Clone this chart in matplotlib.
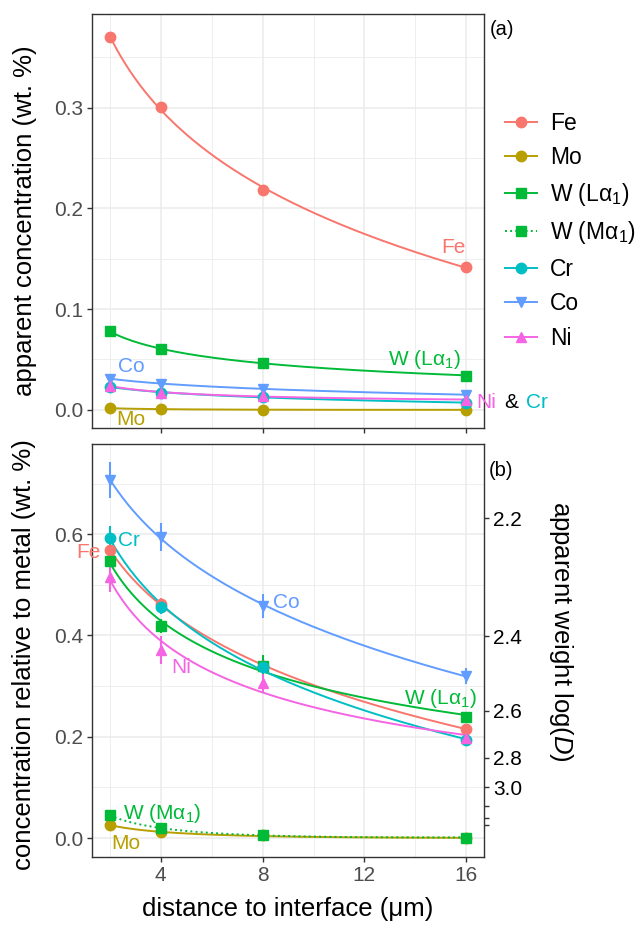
import numpy as np
import matplotlib
matplotlib.use("Agg")
import matplotlib.pyplot as plt
from matplotlib.lines import Line2D

plt.rcParams['font.family'] = ['Liberation Sans', 'DejaVu Sans']
plt.rcParams['mathtext.fontset'] = 'custom'
plt.rcParams['mathtext.rm'] = 'Liberation Sans'
plt.rcParams['mathtext.it'] = 'Liberation Sans:italic'
plt.rcParams['mathtext.default'] = 'regular'

# distance to interface (um)
distance = [2, 4, 8, 16]

# (a) apparent concentration (wt. %)
fe_app = [0.370, 0.301, 0.218, 0.142]
mo_app = [0.0017, 0.0006, 0.0003, 0.0000]
wl_app = [0.078, 0.060, 0.047, 0.034]
cr_app = [0.023, 0.017, 0.013, 0.007]
co_app = [0.031, 0.026, 0.021, 0.015]
ni_app = [0.024, 0.017, 0.014, 0.010]

# (b) concentration relative to metal (wt. %) and uncertainties
fe_rel = [0.568, 0.463, 0.339, 0.216]
mo_rel = [0.026, 0.011, 0.005, 0.000]
wl_rel = [0.547, 0.418, 0.340, 0.239]
wm_rel = [0.045, 0.019, 0.006, 0.001]
cr_rel = [0.593, 0.457, 0.337, 0.193]
co_rel = [0.707, 0.595, 0.458, 0.320]
ni_rel = [0.516, 0.371, 0.306, 0.197]

fe_err = [0.010, 0.010, 0.008, 0.006]
mo_err = [0.003, 0.003, 0.002, 0.002]
wl_err = [0.015, 0.014, 0.021, 0.008]
wm_err = [0.004, 0.003, 0.002, 0.002]
cr_err = [0.023, 0.015, 0.010, 0.008]
co_err = [0.035, 0.028, 0.023, 0.015]
ni_err = [0.031, 0.028, 0.018, 0.010]

# right axis: apparent weight log(D)
weight_ticks = [2.2, 2.4, 2.6, 2.8, 3.0, 3.2, 3.4, 3.6]
weight_labels = ['2.2', '2.4', '2.6', '2.8', '3.0', '', '', '']

colors = {
    'Fe': '#F8766D', 'Mo': '#B79F00', 'W': '#00BA38',
    'Cr': '#00BFC4', 'Co': '#619CFF', 'Ni': '#F564E3',
}
WL = 'W (Lα$_1$)'
WM = 'W (Mα$_1$)'

# name, colour key, marker, linestyle
series_style = [
    ('Fe', 'Fe', 'o', '-'),
    ('Mo', 'Mo', 'o', '-'),
    (WL, 'W', 's', '-'),
    (WM, 'W', 's', ':'),
    ('Cr', 'Cr', 'o', '-'),
    ('Co', 'Co', 'v', '-'),
    ('Ni', 'Ni', '^', '-'),
]

top_data = {'Fe': fe_app, 'Mo': mo_app, WL: wl_app,
            'Cr': cr_app, 'Co': co_app, 'Ni': ni_app}
bot_data = {'Fe': (fe_rel, fe_err), 'Mo': (mo_rel, mo_err),
            WL: (wl_rel, wl_err), WM: (wm_rel, wm_err),
            'Cr': (cr_rel, cr_err), 'Co': (co_rel, co_err),
            'Ni': (ni_rel, ni_err)}

TICK_FS = 15
TITLE_FS = 18.5
LABEL_FS = 15


def fit_curve(xv, yv):
    # smooth fit in log(distance)
    coef = np.polyfit(np.log(xv), yv, 2)
    xs = np.linspace(min(xv), max(xv), 200)
    return xs, np.polyval(coef, np.log(xs))


def style_axes(ax):
    ax.set_facecolor('white')
    ax.set_xlim(1.3, 16.7)
    ax.set_xticks([4, 8, 12, 16])
    ax.set_xticks([2, 6, 10, 14], minor=True)
    ax.grid(True, which='major', color='#EBEBEB', linewidth=1.1, zorder=0)
    ax.grid(True, which='minor', color='#EBEBEB', linewidth=0.6, zorder=0)
    ax.set_axisbelow(True)
    for s in ax.spines.values():
        s.set_color('#333333')
        s.set_linewidth(1.0)
    ax.tick_params(which='major', direction='out', length=3.8, width=1,
                   color='#333333', labelsize=TICK_FS, labelcolor='#4D4D4D',
                   pad=2.5)
    ax.tick_params(which='minor', length=0)


fig = plt.figure(figsize=(6.36, 9.25), dpi=100)
ax_a = fig.add_axes([0.1447, 0.5373, 0.6164, 0.4476])
ax_b = fig.add_axes([0.1447, 0.0735, 0.6164, 0.4465])

# ---- panel (a) ----
style_axes(ax_a)
ax_a.set_ylim(-0.018, 0.393)
ax_a.set_yticks([0.0, 0.1, 0.2, 0.3])
ax_a.set_yticks([0.05, 0.15, 0.25, 0.35], minor=True)
ax_a.set_yticklabels(['0.0', '0.1', '0.2', '0.3'])
ax_a.tick_params(axis='x', labelbottom=False)
for name, ck, mk, ls in series_style:
    if name not in top_data:
        continue
    yv = top_data[name]
    xs, ys = fit_curve(distance, yv)
    ax_a.plot(xs, ys, color=colors[ck], lw=1.4, ls=ls, zorder=3)
    ax_a.plot(distance, yv, ls='none', marker=mk, ms=7.5, color=colors[ck],
              zorder=4)
ax_a.set_ylabel('apparent concentration (wt. %)', fontsize=TITLE_FS,
                ha='center', va='center')
ax_a.yaxis.set_label_coords(-0.171, 0.5)

lab = dict(fontsize=LABEL_FS, clip_on=False)
ax_a.text(15.48, 0.161, 'Fe', color=colors['Fe'], ha='center', va='center', **lab)
ax_a.text(14.35, 0.050, 'W (Lα$_1$)', color=colors['W'], ha='center', va='center', **lab)
ax_a.text(2.83, 0.043, 'Co', color=colors['Co'], ha='center', va='center', **lab)
ax_a.text(16.38, 0.007, 'Ni', color=colors['Ni'], ha='left', va='center', **lab)
ax_a.text(17.48, 0.007, '&', color='black', ha='left', va='center', **lab)
ax_a.text(18.34, 0.007, 'Cr', color=colors['Cr'], ha='left', va='center', **lab)
ax_a.text(2.83, -0.010, 'Mo', color=colors['Mo'], ha='center', va='center',
          fontsize=LABEL_FS)
ax_a.text(1.015, 0.963, '(a)', transform=ax_a.transAxes, fontsize=14.5,
          ha='left', va='center')

# ---- panel (b) ----
style_axes(ax_b)
ax_b.set_ylim(-0.0375, 0.778)
ax_b.set_yticks([0.0, 0.2, 0.4, 0.6])
ax_b.set_yticks([0.1, 0.3, 0.5, 0.7], minor=True)
ax_b.set_yticklabels(['0.0', '0.2', '0.4', '0.6'])
for name, ck, mk, ls in series_style:
    yv, ev = bot_data[name]
    xs, ys = fit_curve(distance, yv)
    ax_b.plot(xs, ys, color=colors[ck], lw=1.4, ls=ls, zorder=3)
    ax_b.errorbar(distance, yv, yerr=ev, fmt='none', ecolor=colors[ck],
                  elinewidth=1.5, capsize=0, zorder=3)
    ax_b.plot(distance, yv, ls='none', marker=mk, ms=7.5, color=colors[ck],
              zorder=4)
ax_b.set_ylabel('concentration relative to metal (wt. %)', fontsize=TITLE_FS,
                ha='center', va='center')
ax_b.yaxis.set_label_coords(-0.173, 0.49)
ax_b.set_xlabel('distance to interface (μm)', fontsize=TITLE_FS, labelpad=9)

ax_b.text(8.41, 0.466, 'Co', color=colors['Co'], ha='left', va='center', **lab)
ax_b.text(2.32, 0.588, 'Cr', color=colors['Cr'], ha='left', va='center', **lab)
ax_b.text(1.62, 0.564, 'Fe', color=colors['Fe'], ha='right', va='center', **lab)
ax_b.text(4.82, 0.336, 'Ni', color=colors['Ni'], ha='center', va='center', **lab)
ax_b.text(14.98, 0.276, 'W (Lα$_1$)', color=colors['W'], ha='center', va='center', **lab)
ax_b.text(2.52, 0.049, 'W (Mα$_1$)', color=colors['W'], ha='left', va='center', **lab)
ax_b.text(2.63, -0.010, 'Mo', color=colors['Mo'], ha='center', va='center', **lab)
ax_b.text(1.013, 0.935, '(b)', transform=ax_b.transAxes, fontsize=14.5,
          ha='left', va='center')

# right axis: log(D), with c = 100 / D
ax_r = ax_b.twinx()
ax_r.set_ylim(ax_b.get_ylim())
ax_r.set_yticks([100 / 10 ** w for w in weight_ticks])
ax_r.set_yticklabels(weight_labels)
ax_r.tick_params(direction='out', length=3.8, width=1, color='#333333',
                 labelsize=TICK_FS, labelcolor='black', pad=2.5)
for s in ax_r.spines.values():
    s.set_visible(False)
ax_r.set_ylabel('apparent weight log($\\mathit{D}$)', fontsize=TITLE_FS,
                rotation=270, ha='center', va='center')
ax_r.yaxis.set_label_coords(1.196, 0.545)

# legend
handles = [Line2D([], [], color=colors[ck], marker=mk, ls=ls, lw=1.4, ms=7.5)
           for name, ck, mk, ls in series_style]
labels = [name for name, ck, mk, ls in series_style]
fig.legend(handles, labels, loc='upper left', bbox_to_anchor=(0.794, 0.879),
           frameon=False, fontsize=16.5, handlelength=1.4, handletextpad=0.55,
           labelspacing=0.5, borderpad=0, borderaxespad=0)

fig.savefig('out.png', dpi=100)
